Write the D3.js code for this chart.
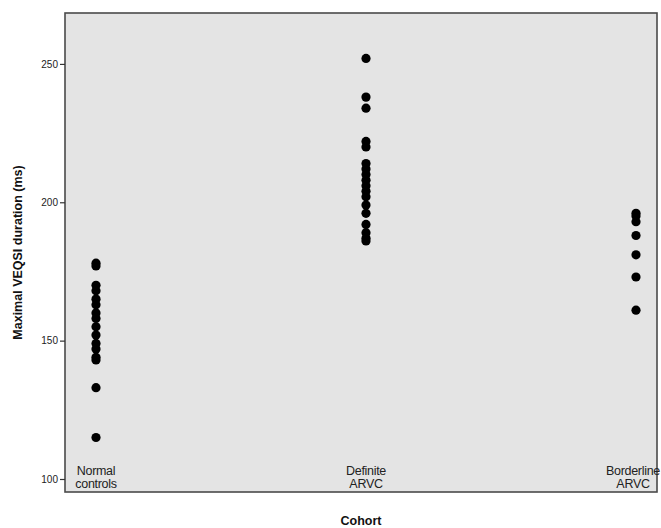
<!DOCTYPE html>
<html lang="en">
  <head>
    <title>Maximal VEQSI duration by cohort</title>
    <script src="https://d3js.org/d3.v7.min.js"></script>
    <style>
      body { margin: 0; background: #fff; }
      svg { font-family: "Liberation Sans", Arial, sans-serif; }
      .tick text { font-size: 10px; fill: #222; }
      .axis-title { font-size: 12.5px; font-weight: bold; fill: #111; }
      .cat-label { font-size: 12.5px; fill: #222; letter-spacing: -0.3px; }
    </style>
  </head>
  <body>
    <svg width="661" height="528"></svg>

    <script>
      // values (ms)
      var cohorts = ["Normal controls", "Definite ARVC", "Borderline ARVC"];
      var cohortLines = [["Normal", "controls"], ["Definite", "ARVC"], ["Borderline", "ARVC"]];

      var normalControls = [178, 177, 170, 168, 165, 163, 160, 158, 155, 152, 149, 147, 144, 143, 133, 115];
      var definiteARVC = [252, 238, 234, 222, 220, 214, 212, 210, 208, 206, 204, 202, 199, 196, 192, 189, 187, 186];
      var borderlineARVC = [196, 195, 193, 188, 181, 173, 161];

      var yTicks = [100, 150, 200, 250];

      var series = [normalControls, definiteARVC, borderlineARVC];

      var svg = d3.select("svg");
      var plotLeft = 65, plotRight = 657, plotTop = 13, plotBottom = 492;

      var x = d3.scalePoint().domain(cohorts).range([96, 636]);
      var y = d3.scaleLinear().domain([95.3, 268.4]).range([plotBottom, plotTop]);

      // plot background
      svg.append("rect")
        .attr("x", plotLeft).attr("y", plotTop)
        .attr("width", plotRight - plotLeft).attr("height", plotBottom - plotTop)
        .attr("fill", "#e4e4e4")
        .attr("stroke", "#4a4a4a")
        .attr("stroke-width", 1.6);

      // y axis
      var yAxis = svg.append("g")
        .attr("transform", "translate(" + plotLeft + ",0)")
        .call(d3.axisLeft(y).tickValues(yTicks).tickSize(5).tickPadding(2));
      yAxis.select(".domain").remove();
      yAxis.selectAll(".tick line").attr("stroke", "#333").attr("stroke-width", 1.2);

      // points
      var points = [];
      series.forEach(function(vals, i) {
        vals.forEach(function(v) { points.push({cohort: cohorts[i], value: v}); });
      });

      svg.append("g").selectAll("circle")
        .data(points)
        .enter().append("circle")
        .attr("cx", function(d) { return x(d.cohort); })
        .attr("cy", function(d) { return y(d.value); })
        .attr("r", 4.6)
        .attr("fill", "#000");

      // category labels inside the plot, two lines each
      var cats = svg.append("g").selectAll("g")
        .data(cohorts)
        .enter().append("g");
      cats.each(function(d, i) {
        var g = d3.select(this);
        // keep the last label inside the frame
        var cx = Math.min(x(d), plotRight - 24);
        cohortLines[i].forEach(function(line, j) {
          g.append("text")
            .attr("class", "cat-label")
            .attr("text-anchor", "middle")
            .attr("x", cx)
            .attr("y", 475 + j * 13)
            .text(line);
        });
      });

      // axis titles
      svg.append("text")
        .attr("class", "axis-title")
        .attr("text-anchor", "middle")
        .attr("x", (plotLeft + plotRight) / 2)
        .attr("y", 525)
        .text("Cohort");

      svg.append("text")
        .attr("class", "axis-title")
        .attr("text-anchor", "middle")
        .attr("transform", "translate(22," + (plotTop + plotBottom) / 2 + ") rotate(-90)")
        .text("Maximal VEQSI duration (ms)");
    </script>
  </body>
</html>
